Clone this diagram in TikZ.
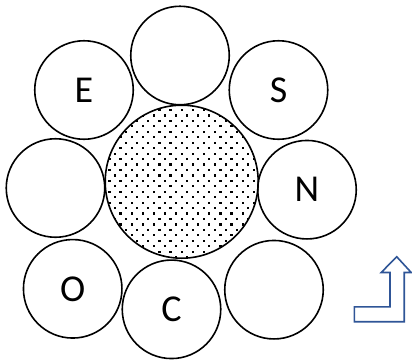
\documentclass[tikz,border=0pt]{standalone}
\usepackage{fontspec}
\setmainfont{Carlito}
\definecolor{arrowblue}{HTML}{2F5597}
\begin{document}
\begin{tikzpicture}[x=1pt,y=-1pt,
  ball/.style={circle,draw=black,line width=1.6pt,minimum size=98.5pt,inner sep=0pt,font=\fontsize{38}{38}\selectfont},
  core/.style={circle,draw=black,line width=1.6pt,minimum size=153pt,inner sep=0pt}]
\useasboundingbox (0,0) rectangle (412,360);
% central dotted circle
\begin{scope}
  \clip (181.7,181.7) circle (76.5pt);
  \foreach \j in {0,...,29}{
    \pgfmathsetmacro{\yy}{103.45+\j*5.45}
    \pgfmathsetmacro{\off}{mod(\j+1,2)*5.55}
    \foreach \i in {0,...,16}{
      \fill (91.7+\off+\i*11.1,\yy) rectangle ++(2.2,2.2);
    }
  }
\end{scope}
\node[core] (center) at (181.7,181.7) {};
\node[ball] (top) at (180,55.5) {};
\node[ball] (e) at (84,90) {E};
\node[ball] (s) at (278.5,90) {S};
\node[ball] (left) at (55.5,188) {};
\node[ball] (n) at (307,189.7) {N};
\node[ball] (o) at (72.7,288.8) {O};
\node[ball] (c) at (171.5,309.3) {C};
\node[ball] (br) at (274,289.7) {};
% L-shaped arrow
\draw[arrowblue,line width=1.6pt,fill=white,line join=miter]
  (354.3,321.7) -- (404.2,321.7) -- (404.2,272.5) -- (411.2,272.5) -- (396.7,256.7)
  -- (381.2,272.5) -- (390,272.5) -- (390,306.8) -- (354.3,306.8) -- cycle;
\end{tikzpicture}
\end{document}
